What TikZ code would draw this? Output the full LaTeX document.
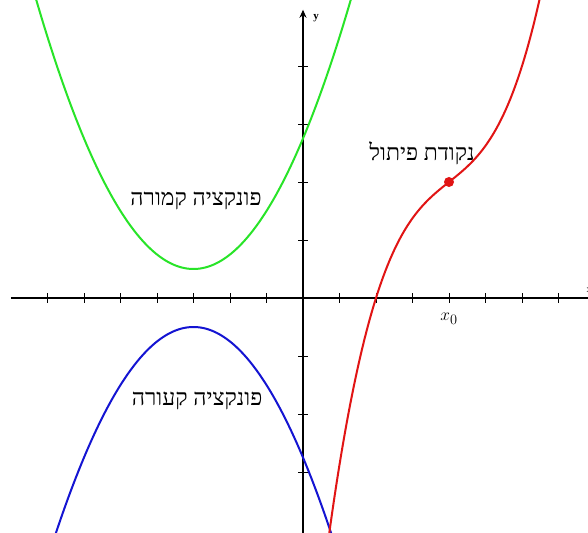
\documentclass[tikz,border=0pt]{standalone}
\usepackage{fontspec}
\setmainfont{Liberation Serif}
\newfontfamily\hebfont[Script=Hebrew]{Liberation Serif}
\TeXXeTstate=1
\usetikzlibrary{arrows.meta}
\definecolor{cgreen}{RGB}{40,228,40}
\definecolor{cblue}{RGB}{20,20,210}
\definecolor{cred}{RGB}{225,20,20}
\begin{document}
\begin{tikzpicture}[x=36.5pt,y=58pt,
  axis/.style={line width=1.3pt,black},
  tickmark/.style={line width=0.9pt,black},
  curve/.style={line width=2pt,line join=round},
  heblbl/.style={font=\hebfont\fontsize{23}{25}\selectfont,inner sep=0pt}]
\useasboundingbox (-8.3014,-4.0517) rectangle (7.8082,5.1379);
\clip (-8.3014,-4.0517) rectangle (7.8082,5.1379);
\fill[white] (-8.3014,-4.0517) rectangle (7.8082,5.1379);
% axes
\coordinate (xs) at (-8,0);
\coordinate (xe) at (8.3,0);
\coordinate (ys) at (0,-4.3);
\coordinate (ye) at (0,4.97);
\draw[axis] (xs) -- (xe);
\draw[axis,-{Stealth[length=8pt,width=7pt]}] (ys) -- (ye);
\foreach \i in {-7,-6,-5,-4,-3,-2,-1,1,2,3,4,5,6,7}
  \draw[tickmark] ([yshift=-5pt]\i,0) -- ([yshift=5pt]\i,0);
\foreach \j in {-3,-2,-1,1,2,3,4}
  \draw[tickmark] ([xshift=-5pt]0,\j) -- ([xshift=5pt]0,\j);
\node[font=\fontsize{11}{11}\selectfont\bfseries] (ylab) at ([xshift=13pt]0,4.82) {y};
\node[font=\fontsize{10}{10}\selectfont] (xlab) at (7.84,0.14) {x};
\node[font=\fontsize{19}{19}\selectfont] (x0lab) at (4,-0.36) {$x_0$};
% curves
\draw[curve,cgreen] plot[domain=-7.5:1.5,samples=120,smooth] (\x,{0.25*(\x+3)^2+0.5});
\draw[curve,cblue] plot[domain=-7:1,samples=120,smooth] (\x,{-0.25*(\x+3)^2-0.5});
\draw[curve,cred] plot[domain=0.6:6.6,samples=150,smooth] (\x,{(\x-4)^3/8+(\x-4)/2+2});
\fill[cred] (4,2) circle (5pt);
\coordinate (ip) at (4,2);
% labels
\node[heblbl] (inflect) at (3.26,2.5) {\beginR נקודת פיתול\endR};
\node[heblbl] (convex) at (-2.93,1.672) {\beginR פונקציה קמורה\endR};
\node[heblbl] (concave) at (-2.90,-1.776) {\beginR פונקציה קעורה\endR};
\end{tikzpicture}
\end{document}
